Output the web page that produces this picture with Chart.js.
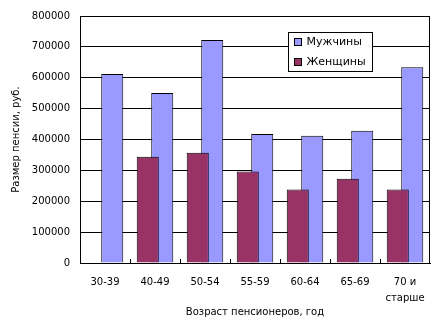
<!DOCTYPE html>
<html><head><meta charset="utf-8">
<script src="https://cdn.jsdelivr.net/npm/chart.js@4/dist/chart.umd.min.js"></script>
<style>html,body{margin:0;padding:0;background:#fff}#wrap{width:446px;height:327px}</style>
</head><body><div id="wrap"><canvas id="c" width="446" height="327"></canvas></div>
<script>
const categories = ['30-39', '40-49', '50-54', '55-59', '60-64', '65-69', ['70 и', 'старше']];
const menValues = [612000, 551000, 722000, 418000, 412000, 428000, 634000];
const womenValues = [null, 344000, 357000, 296000, 238000, 273000, 238000];
const seriesNames = ['Мужчины', 'Женщины'];
const seriesColors = ['#9999FF', '#993366'];
const xTitle = 'Возраст пенсионеров, год';
const yTitle = 'Размер пенсии, руб.';

const FONT = "'DejaVu Sans', sans-serif";
const tickFont = { family: FONT, size: 10 };

const decor = {
  id: 'decor',
  afterDatasetsDraw(chart) {
    const { ctx, chartArea: a, scales: { x } } = chart;
    ctx.save();
    ctx.strokeStyle = '#000';
    ctx.lineWidth = 1;
    ctx.beginPath();
    for (let i = 1; i < categories.length; i++) {
      const px = Math.round(x.getPixelForValue(i - 0.5)) + 0.5;
      ctx.moveTo(px, a.bottom);
      ctx.lineTo(px, a.bottom - 4);
    }
    const r = Math.round(a.right) - 0.5;
    ctx.moveTo(r, a.top);
    ctx.lineTo(r, a.bottom);
    ctx.stroke();

    // legend inside plot area
    const bx = Math.round(a.left + 208) + 0.5, by = Math.round(a.top + 16) + 0.5, bw = 84, bh = 39;
    ctx.fillStyle = '#fff';
    ctx.fillRect(bx, by, bw, bh);
    ctx.strokeRect(bx, by, bw, bh);
    ctx.font = "11px " + FONT;
    ctx.textBaseline = 'middle';
    ctx.textAlign = 'left';
    seriesNames.forEach((name, i) => {
      const sy = by + 6 + i * 20;
      ctx.fillStyle = seriesColors[i];
      ctx.fillRect(bx + 6, sy, 7, 7);
      ctx.strokeRect(bx + 6, sy, 7, 7);
      ctx.fillStyle = '#000';
      ctx.fillText(name, bx + 18, sy + 4);
    });
    ctx.restore();
  }
};

new Chart(document.getElementById('c'), {
  type: 'bar',
  data: {
    labels: categories,
    datasets: [
      { label: seriesNames[1], data: womenValues, backgroundColor: seriesColors[1], borderColor: '#000', borderWidth: 1, categoryPercentage: 0.58, barPercentage: 1.52 },
      { label: seriesNames[0], data: menValues, backgroundColor: seriesColors[0], borderColor: '#000', borderWidth: 1, categoryPercentage: 0.58, barPercentage: 1.52 }
    ]
  },
  options: {
    responsive: false,
    animation: false,
    devicePixelRatio: 1,
    layout: { padding: { top: 14, right: 16, left: 0, bottom: 0 } },
    plugins: { legend: { display: false }, tooltip: { enabled: false } },
    scales: {
      x: {
        grid: { display: false, drawTicks: false },
        border: { display: true, color: '#000', width: 1 },
        ticks: { color: '#000', font: { family: FONT, size: 10, lineHeight: 1.6 }, padding: 11, maxRotation: 0, autoSkip: false },
        title: { display: true, text: xTitle, color: '#000', font: { family: FONT, size: 10 }, padding: { top: 0, bottom: 9 } },
        afterFit: s => { s.height = 64; }
      },
      y: {
        min: 0, max: 800000,
        grid: { color: '#000', lineWidth: 1, drawTicks: false },
        border: { display: true, color: '#000', width: 1 },
        ticks: { stepSize: 100000, color: '#000', font: tickFont, padding: 10, callback: v => String(v) },
        title: { display: true, text: yTitle, color: '#000', font: { family: FONT, size: 10 }, padding: { top: 10, bottom: 0 } },
        afterFit: s => { s.width = 80; }
      }
    }
  },
  plugins: [decor]
});
</script>
</body></html>
